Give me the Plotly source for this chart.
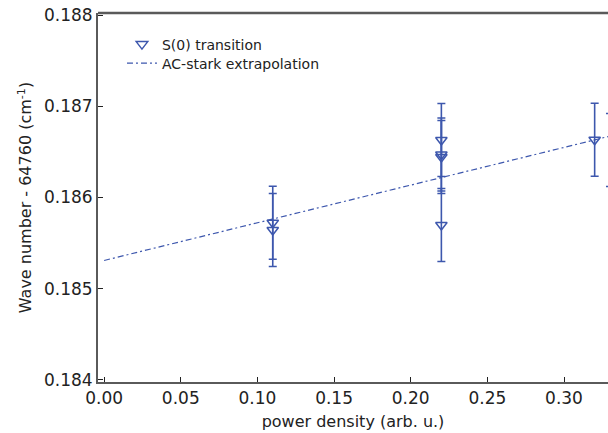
import plotly.graph_objects as go

# Measured data: S(0) transition
power = [0.11, 0.11, 0.22, 0.22, 0.22, 0.22, 0.32, 0.33]
wavenum = [0.185724, 0.185644, 0.186630, 0.186471, 0.186444, 0.185699, 0.186633, 0.186521]
err = [0.0004, 0.0004, 0.0004, 0.0004, 0.0004, 0.0004, 0.0004, 0.0004]

# AC-stark extrapolation line endpoints
fit_x = [0.0, 0.34]
fit_y = [0.18531, 0.186714]

x_ticks = [0.00, 0.05, 0.10, 0.15, 0.20, 0.25, 0.30]
y_ticks = [0.184, 0.185, 0.186, 0.187, 0.188]

blue = "#3d57ad"
axis_col = "#5a5a5a"
font_fam = "DejaVu Sans"

fig = go.Figure()
fig.add_trace(go.Scatter(
    x=power, y=wavenum, mode="markers", name="S(0) transition", legend="legend",
    marker=dict(symbol="triangle-down-open", size=10, color=blue, line=dict(width=1.5, color=blue)),
    error_y=dict(type="data", array=err, visible=True, color=blue, thickness=1.6, width=4),
    cliponaxis=False,
))
fig.add_trace(go.Scatter(
    x=fit_x, y=fit_y, mode="lines", name="AC-stark extrapolation", legend="legend2",
    line=dict(color=blue, width=1.2, dash="6px,3px,2px,3px"),
))

leg_common = dict(xanchor="left", yanchor="top", bgcolor="rgba(0,0,0,0)",
                  font=dict(size=14, family=font_fam, color="#222"), itemwidth=30)

fig.update_layout(
    width=608, height=433,
    margin=dict(l=98, r=0, t=13, b=51),
    paper_bgcolor="white", plot_bgcolor="white",
    font=dict(family=font_fam, size=16, color="#222"),
    showlegend=True,
    legend=dict(x=0.047, y=0.958, **leg_common),
    legend2=dict(x=0.047, y=0.9065, **leg_common),
    shapes=[dict(type="line", xref="paper", yref="paper", x0=0, x1=1, y0=1, y1=1,
                 line=dict(color=axis_col, width=2.5))],
)
fig.update_xaxes(
    range=[-0.0040, 0.3287], tickvals=x_ticks, ticktext=[f"{v:.2f}" for v in x_ticks],
    ticks="inside", ticklen=5, tickwidth=1, tickcolor="#222",
    showline=True, linecolor=axis_col, linewidth=2, showgrid=False, zeroline=False,
    tickfont=dict(size=17), title=dict(text="power density (arb. u.)", font=dict(size=16), standoff=8),
)
fig.update_yaxes(
    range=[0.183978, 0.188022], tickvals=y_ticks, ticktext=[f"{v:.3f}" for v in y_ticks],
    ticks="inside", ticklen=5, tickwidth=1, tickcolor="#222",
    showline=True, linecolor=axis_col, linewidth=2, showgrid=False, zeroline=False,
    tickfont=dict(size=17), title=dict(text="Wave number - 64760 (cm<sup>-1</sup>)", font=dict(size=16), standoff=8),
)

fig.write_html("out.html")
